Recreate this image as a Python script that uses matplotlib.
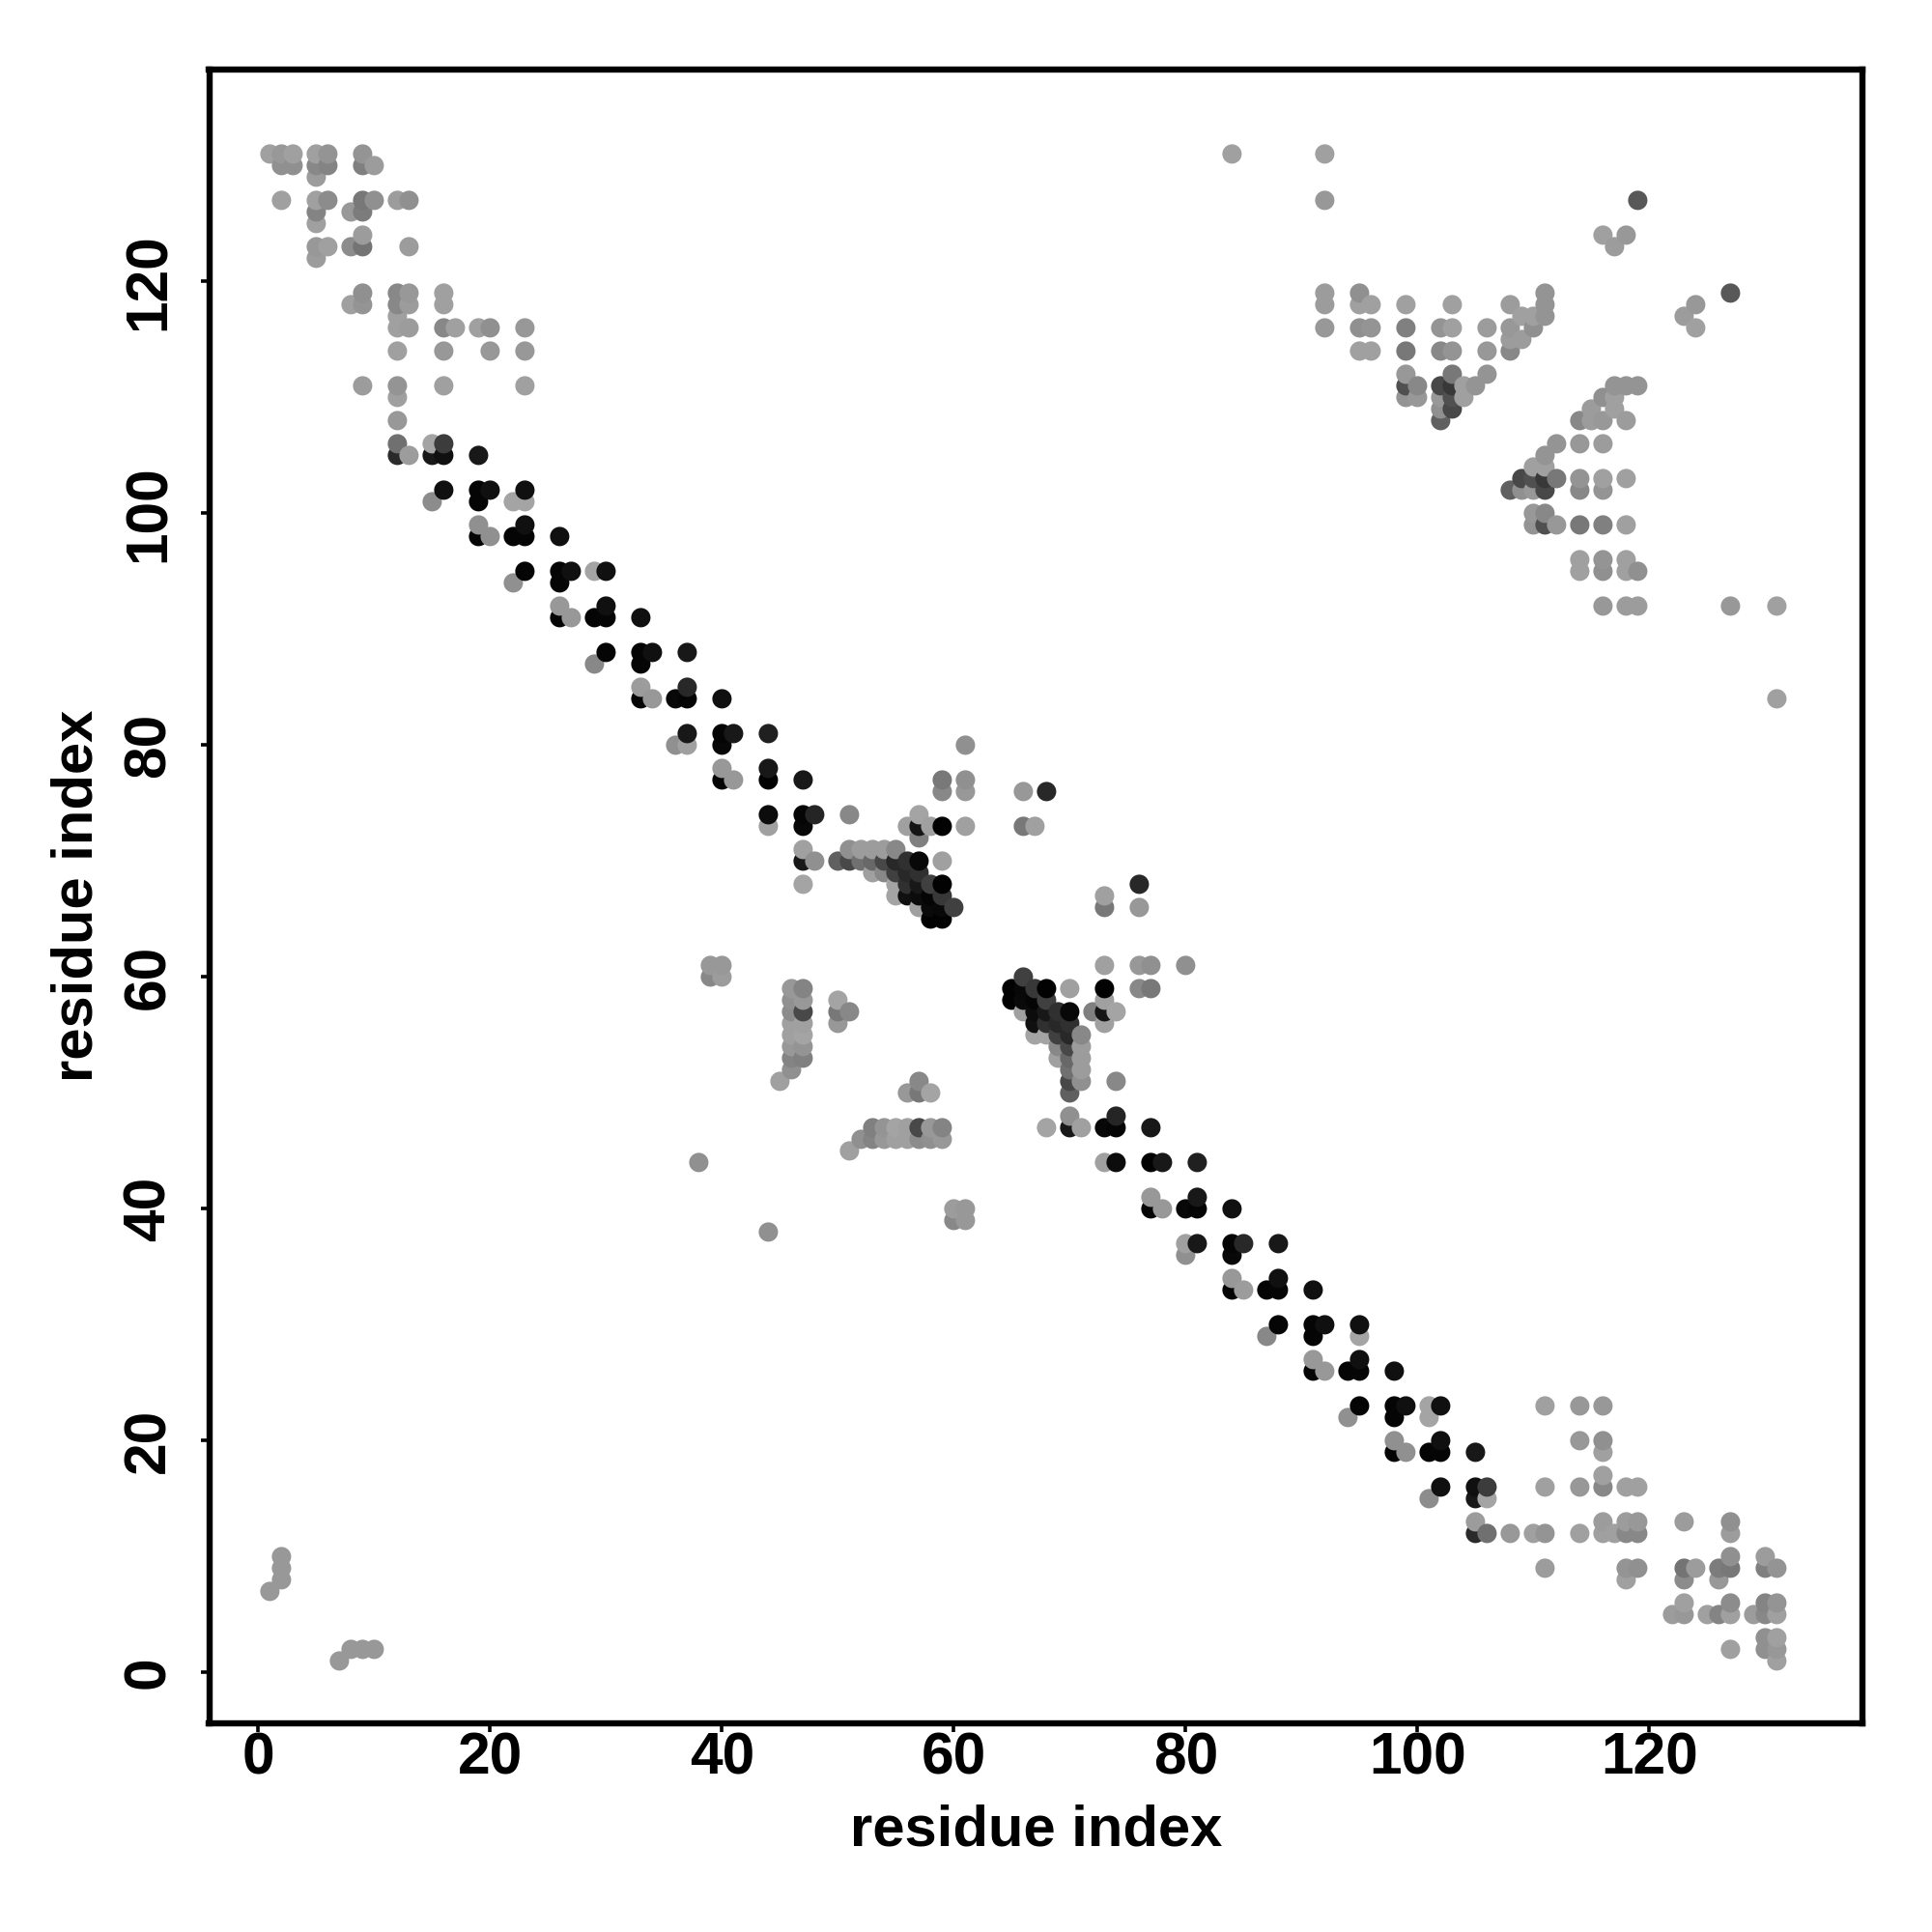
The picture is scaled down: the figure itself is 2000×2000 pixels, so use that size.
import numpy as np
import matplotlib
matplotlib.use("Agg")
import matplotlib.pyplot as plt

plt.rcParams['font.family'] = ['Liberation Sans', 'DejaVu Sans']

# residue j of each row, with the residues i and grey shades (hex) read from the upper triangle
row_j = [131, 130, 129, 127, 126, 125, 124, 123, 122, 119, 118, 117, 116, 114, 111, 110, 108, 106, 105,
         102, 101, 99, 98, 95, 94, 92, 91, 88, 87, 85, 84, 81, 80, 78, 77, 74, 73, 72, 71, 70, 69, 68, 67,
         66, 65, 112, 115, 109, 61, 60, 59, 58, 57, 56, 55, 54, 53, 52, 51, 50, 47, 46,
         45, 44, 10, 9, 8, 7]
row_i = [
    [1, 2, 3, 5, 6, 9, 84, 92],
    [2, 3, 5, 6, 9, 10],
    [5],
    [2, 5, 6, 9, 10, 12, 13, 92, 119],
    [5, 8, 9],
    [5],
    [9, 116, 118],
    [5, 6, 8, 9, 13, 117],
    [5],
    [9, 12, 13, 16, 92, 95, 111],
    [8, 9, 12, 13, 16, 92, 95, 96, 99, 103, 108, 111],
    [12, 109, 110, 111],
    [12, 13, 16, 17, 19, 20, 23, 92, 95, 96, 99, 102, 103, 106, 108, 110],
    [12, 16, 20, 23, 95, 96, 99, 102, 103, 106, 108],
    [9, 12, 16, 23, 99, 100, 102, 103, 104, 105],
    [12, 99, 100, 102, 103, 104],
    [12, 102],
    [12, 15, 16],
    [12, 13, 15, 16, 19],
    [16, 19, 20, 23],
    [15, 19, 22, 23],
    [19, 23],
    [19, 20, 22, 23, 26],
    [23, 26, 27, 29, 30],
    [22, 26],
    [26, 30],
    [26, 27, 29, 30, 33],
    [30, 33, 34, 37],
    [29, 33],
    [33, 37],
    [33, 34, 36, 37, 40],
    [37, 40, 41, 44],
    [36, 37, 40, 61],
    [40, 44],
    [40, 41, 44, 47, 59, 61],
    [44, 47, 48, 51, 57],
    [44, 47, 56, 57, 58, 59, 61, 66, 67],
    [57],
    [47, 51, 52, 53, 54, 55],
    [47, 48, 50, 51, 52, 53, 54, 55, 56, 57, 59],
    [53, 54, 55, 56, 57],
    [47, 55, 56, 57, 58, 59],
    [55, 56, 57, 58, 59],
    [57, 58, 59, 60],
    [58, 59],
    [99, 103, 106],
    [108, 109],
    [102, 103],
    [39, 40],
    [39, 40],
    [46, 47],
    [46, 47, 50],
    [46, 47, 50, 51],
    [46, 47, 50],
    [46, 47],
    [46, 47],
    [46, 47],
    [46],
    [57],
    [56, 57, 58],
    [53, 54, 55, 56, 57, 58, 59],
    [52, 53, 54, 55, 56, 57, 58, 59],
    [51],
    [38],
    [2],
    [2],
    [2],
    [1],
]
row_shade = [
    "a0 98 a0 a0 94 94 a0 a0",
    "90 90 88 84 80 9c",
    "9c",
    "a0 a0 8c 78 90 9c 90 98 58",
    "84 98 7c",
    "a0",
    "9c a0 98",
    "98 a0 8c 74 9c 9c",
    "9c",
    "90 88 98 a0 9c 90 94",
    "a0 94 88 9c a0 9c a0 a0 a0 a0 9c 94",
    "a0 a0 a0 94",
    "a0 9c 88 a0 a0 90 98 98 90 94 80 94 a0 9c 98 90",
    "a0 98 98 98 a0 a0 78 88 94 98 88",
    "9c 94 a0 a0 50 88 48 38 a0 94",
    "a0 94 98 98 50 a0",
    "98 60",
    "70 a4 3c",
    "2a 9c 18 10 18",
    "10 05 10 10",
    "8c 05 a4 a4",
    "90 10",
    "05 90 05 05 10",
    "05 05 10 a4 10",
    "90 05",
    "98 10",
    "05 98 05 05 10",
    "05 05 10 18",
    "88 05",
    "9c 28",
    "05 98 08 05 10",
    "18 05 18 20",
    "90 a0 08 90",
    "98 18",
    "05 98 02 18 78 90",
    "0c 05 25 88 a4",
    "a0 08 a0 15 a0 02 a0 78 a0",
    "80",
    "a0 90 9c 9c 9c 88",
    "18 90 60 48 70 68 48 28 30 08 a0",
    "a0 88 40 28 30",
    "a4 a4 30 18 40 02",
    "a4 10 0c 05 38",
    "a0 0a 08 40",
    "02 02",
    "98 78 94",
    "9c 9c",
    "90 48",
    "98 98",
    "88 9c",
    "98 84",
    "90 98 a4",
    "8c 48 78 88",
    "a0 a0 98",
    "a0 a4",
    "98 94",
    "84 80",
    "90",
    "80",
    "94 78 a0",
    "80 94 a0 a0 48 98 80",
    "98 84 98 a0 a0 88 94 9c",
    "a0",
    "90",
    "98",
    "98",
    "98",
    "98",
]
# further contacts, given one by one
extra_i = [59, 61, 61, 66, 68, 73, 73, 76, 76, 109, 110, 102, 103, 104, 105, 106, 106, 106, 108, 108, 108, 103, 102, 108]
extra_j = [76, 76, 80, 76, 76, 67, 66, 68, 66, 115, 117, 108, 110, 110, 111, 116, 114, 112, 116, 115, 114, 109, 109, 118]
extra_shade = "88 98 90 98 28 a0 70 28 90 98 9c 60 50 94 94 a0 98 9c 94 98 90 48 90 9c".split()

axis_ticks = [0, 20, 40, 60, 80, 100, 120]
axis_label = "residue index"

i_vals, j_vals, shades = [], [], []
for j, xs, ss in zip(row_j, row_i, row_shade):
    for x, s in zip(xs, ss.split()):
        i_vals.append(x); j_vals.append(j); shades.append(int(s, 16))
for x, y, s in zip(extra_i, extra_j, extra_shade):
    i_vals.append(x); j_vals.append(y); shades.append(int(s, 16))

# keep one entry per pair, then add the mirror image
pairs = {}
for x, y, s in zip(i_vals, j_vals, shades):
    pairs.setdefault((x, y), s)
    pairs.setdefault((y, x), s)
keys = sorted(pairs)
X = np.array([k[0] for k in keys])
Y = np.array([k[1] for k in keys])
C = [(pairs[k] / 255,) * 3 for k in keys]

W = 2000
fig = plt.figure(figsize=(10, 10), dpi=200, facecolor='white')
L, R, T, B = 216.5, 1928, 72, 1784
ax = fig.add_axes([L / W, 1 - B / W, (R - L) / W, (B - T) / W])
ax.scatter(X, Y, s=52, c=C, linewidths=0, zorder=3)
ax.set_xlim((L - 266.6 - 0.8) / 12.0, (R - 266.6 - 0.8) / 12.0)
ax.set_ylim((1731.4 - B) / 12.0, (1731.4 - T) / 12.0)
ax.set_xticks(axis_ticks)
ax.set_yticks(axis_ticks)
for s in ax.spines.values():
    s.set_linewidth(2.3)
ax.tick_params(length=3.2, width=1.3, labelsize=21.8)
ax.tick_params(axis='x', pad=0)
ax.tick_params(axis='y', pad=8.7)
for t in ax.get_xticklabels():
    t.set_fontweight('bold')
for t in ax.get_yticklabels():
    t.set_fontweight('bold'); t.set_rotation(90); t.set_va('center')
fig.text((L + R) / 2 / W, 1 - 1895 / W, axis_label, fontsize=21.5, fontweight='bold', ha='center', va='center')
fig.text(80 / W, 1 - 927 / W, axis_label, fontsize=21.5, fontweight='bold', ha='center', va='center', rotation=90)
fig.savefig("out.png", dpi=200, facecolor='white')
